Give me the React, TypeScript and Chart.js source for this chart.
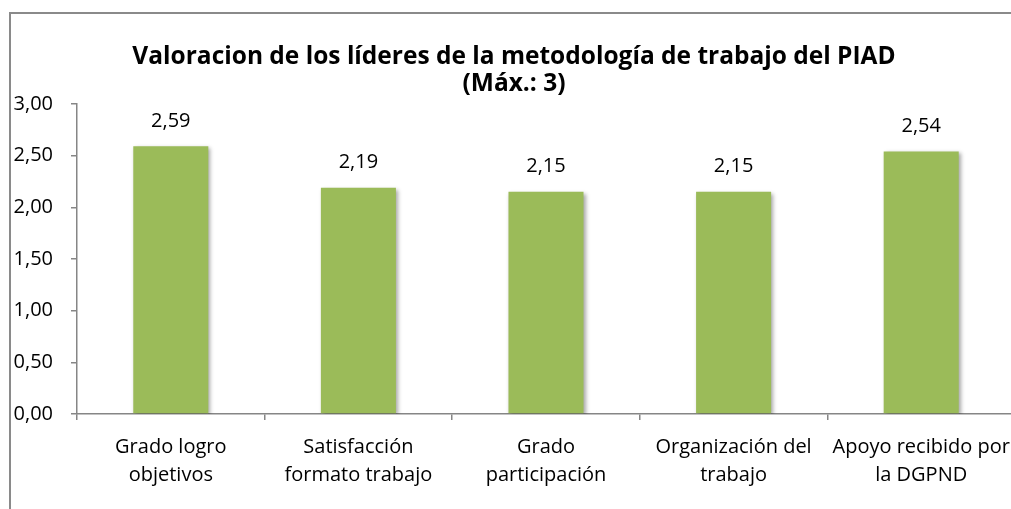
import React, { useEffect, useRef } from "react";
import { Chart, registerables } from "chart.js";

Chart.register(...registerables);

const categories: string[][] = [
  ["Grado logro", "objetivos"],
  ["Satisfacción", "formato trabajo"],
  ["Grado", "participación"],
  ["Organización del", "trabajo"],
  ["Apoyo recibido por", "la DGPND"],
];
const values: number[] = [2.59, 2.19, 2.15, 2.15, 2.54];
const yTicks: number[] = [0, 0.5, 1, 1.5, 2, 2.5, 3];
const titleLines: string[] = [
  "Valoracion de los líderes de la metodología de trabajo del PIAD",
  "(Máx.: 3)",
];

const FONT = "'Open Sans', Lato, 'Liberation Sans', sans-serif";
const fmt = (v: number) => v.toFixed(2).replace(".", ",");

const shadowPlugin = {
  id: "barShadow",
  beforeDatasetsDraw(chart: any) {
    const ctx = chart.ctx;
    ctx.save();
    ctx.shadowColor = "rgba(0,0,0,0.35)";
    ctx.shadowBlur = 4;
    ctx.shadowOffsetX = 2;
    ctx.shadowOffsetY = 2;
  },
  afterDatasetsDraw(chart: any) {
    chart.ctx.restore();
  },
};

const labelPlugin = {
  id: "valueLabels",
  afterDatasetsDraw(chart: any) {
    const ctx = chart.ctx;
    const meta = chart.getDatasetMeta(0);
    ctx.save();
    ctx.font = `20px ${FONT}`;
    ctx.fillStyle = "#000";
    ctx.textAlign = "center";
    ctx.textBaseline = "middle";
    meta.data.forEach((bar: any, i: number) => {
      ctx.fillText(fmt(values[i]), bar.x, bar.y - 25);
    });
    ctx.restore();
  },
};

export default function App() {
  const ref = useRef<HTMLCanvasElement | null>(null);
  useEffect(() => {
    if (!ref.current) return;
    const chart = new Chart(ref.current, {
      type: "bar",
      data: {
        labels: categories,
        datasets: [
          {
            data: values,
            backgroundColor: "#9BBB59",
            borderWidth: 0,
            barPercentage: 0.4,
            categoryPercentage: 1,
          },
        ],
      },
      options: {
        animation: false,
        responsive: false,
        maintainAspectRatio: false,
        layout: { padding: { top: 28, right: 15, left: 13, bottom: 0 } },
        plugins: {
          legend: { display: false },
          tooltip: { enabled: false },
          title: {
            display: true,
            text: titleLines,
            color: "#000",
            font: { family: FONT, size: 24.5, weight: "bold", lineHeight: 1.1 },
            padding: { top: 15.5, bottom: 6.5 },
          },
        },
        scales: {
          x: {
            offset: true,
            afterFit: (s: any) => {
              s.height = 95;
            },
            border: { display: true, color: "#868686", width: 1.5 },
            grid: {
              offset: true,
              drawOnChartArea: false,
              drawTicks: true,
              tickLength: 6,
              color: "#868686",
              lineWidth: 1.5,
            },
            ticks: {
              color: "#000",
              font: { family: FONT, size: 20, lineHeight: 1.4 },
              padding: 13.5,
              maxRotation: 0,
              minRotation: 0,
              autoSkip: false,
            },
          },
          y: {
            min: 0,
            max: 3,
            afterFit: (s: any) => {
              s.width = 64;
            },
            afterBuildTicks: (s: any) => {
              s.ticks = yTicks.map((v) => ({ value: v }));
            },
            border: { display: true, color: "#868686", width: 1.5 },
            grid: {
              drawOnChartArea: false,
              drawTicks: true,
              tickLength: 6,
              color: "#868686",
              lineWidth: 1.5,
            },
            ticks: {
              color: "#000",
              font: { family: FONT, size: 20 },
              padding: 18,
              callback: (v: any) => fmt(Number(v)),
            },
          },
        },
      },
      plugins: [shadowPlugin, labelPlugin],
    });
    return () => chart.destroy();
  }, []);

  return (
    <div
      style={{
        position: "absolute",
        left: 0,
        top: 0,
        width: 1011,
        height: 509,
        overflow: "hidden",
        background: "#fff",
      }}
    >
      <div
        style={{
          position: "absolute",
          left: 9,
          top: 12,
          width: 1100,
          height: 600,
          border: "2px solid #8a8a8a",
          boxSizing: "border-box",
        }}
      />
      <canvas
        ref={ref}
        width={1030}
        height={509}
        style={{ position: "absolute", left: 0, top: 0, width: 1030, height: 509 }}
      />
    </div>
  );
}
